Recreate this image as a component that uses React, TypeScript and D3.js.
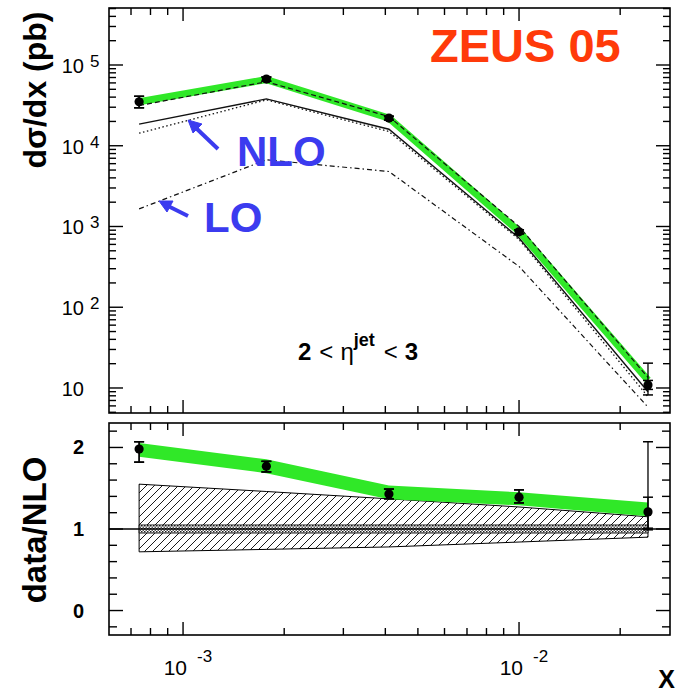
import React from "react";
import * as d3 from "d3";

// Bin centres in x
const xCenters = [7.4e-4, 1.77e-3, 4.1e-3, 1.0e-2, 2.42e-2];

// dσ/dx (pb): measured values and uncertainties
const dataVals = [3.5e4, 6.7e4, 2.2e4, 860, 10.9];
const dataLo = [2.95e4, 6.3e4, 2.08e4, 810, 9.6];
const dataHi = [4.1e4, 7.1e4, 2.32e4, 910, 12.4];
const dataLoTot = [2.95e4, 6.3e4, 2.08e4, 810, 8.2];
const dataHiTot = [4.1e4, 7.1e4, 2.32e4, 910, 20.3];

// Theory curves (pb)
const greenVals = [3.5e4, 6.6e4, 2.2e4, 870, 12.5];
const dashedVals = [3.15e4, 6.2e4, 2.3e4, 1000, 13.5];
const nloVals = [1.85e4, 3.8e4, 1.6e4, 720, 9.0];
const dottedVals = [1.43e4, 3.7e4, 1.5e4, 690, 7.8];
const loVals = [1.65e3, 6.7e3, 4.8e3, 320, 5.8];

// Ratio data / NLO
const ratioVals = [1.98, 1.77, 1.43, 1.39, 1.21];
const ratioLo = [1.82, 1.7, 1.37, 1.32, 1.01];
const ratioHi = [2.07, 1.83, 1.49, 1.48, 1.39];
const ratioLoTot = [1.82, 1.7, 1.37, 1.32, 0.99];
const ratioHiTot = [2.07, 1.83, 1.49, 1.48, 2.07];

// Green band in the ratio panel
const greenRatioMid = [1.97, 1.77, 1.45, 1.37, 1.24];
const greenRatioHalf = [0.085, 0.085, 0.085, 0.08, 0.085];

// NLO scale uncertainty (hatched) and small inner band
const hatchTop = [1.55, 1.46, 1.37, 1.27, 1.15];
const hatchBot = [0.72, 0.75, 0.78, 0.84, 0.9];
const innerTop = [1.05, 1.05, 1.05, 1.05, 1.05];
const innerBot = [0.95, 0.95, 0.95, 0.95, 0.95];

const topDecades = [10, 100, 1000, 10000, 100000];
const topDecadeExp = ["", "2", "3", "4", "5"];
const ratioTicks = [0, 1, 2];
const xMajor = [1e-3, 1e-2];
const xMajorExp = ["-3", "-2"];

const W = 678;
const H = 694;
const L = 109;
const R = 670;
const T1 = 8;
const B1 = 413;
const T2 = 423;
const B2 = 635;

const FONT = "'Liberation Sans', Arial, Helvetica, sans-serif";
const GREEN = "#30e828";
const BLUE = "#3b3bef";
const RED = "#ff3a0a";

export default function App() {
  const x = d3.scaleLog().domain([6.02e-4, 0.02814]).range([L, R]);
  const yTop = d3.scaleLog().domain([4.9, 5.08e5]).range([B1, T1]);
  const yBot = d3.scaleLinear().domain([-0.3, 2.3]).range([B2, T2]);

  const lineTop = (vals: number[]) =>
    d3
      .line<number>()
      .x((_, i) => x(xCenters[i]))
      .y((v) => yTop(v))(vals) || "";

  const bandBot = (lo: number[], hi: number[]) =>
    d3
      .area<number>()
      .x((_, i) => x(xCenters[i]))
      .y0((_, i) => yBot(lo[i]))
      .y1((_, i) => yBot(hi[i]))(xCenters) || "";

  const greenLo = greenRatioMid.map((v, i) => v - greenRatioHalf[i]);
  const greenHi = greenRatioMid.map((v, i) => v + greenRatioHalf[i]);

  // x ticks (log, 1..9 per decade)
  const xTicks: { v: number; major: boolean }[] = [];
  for (let e = -4; e <= -1; e++) {
    for (let m = 1; m <= 9; m++) {
      const v = m * Math.pow(10, e);
      if (v >= 6.02e-4 && v <= 0.02814) xTicks.push({ v, major: m === 1 });
    }
  }
  // y log ticks
  const yTicks: { v: number; major: boolean }[] = [];
  for (let e = 0; e <= 5; e++) {
    for (let m = 1; m <= 9; m++) {
      const v = m * Math.pow(10, e);
      if (v >= 4.9 && v <= 5.08e5) yTicks.push({ v, major: m === 1 });
    }
  }
  // ratio ticks every 0.2
  const rTicks: { v: number; major: boolean }[] = [];
  for (let k = -1; k <= 11; k++) {
    const v = k * 0.2;
    if (v >= -0.3 && v <= 2.3) rTicks.push({ v, major: k % 5 === 0 });
  }

  const xTickMarks = (top: number, bot: number) =>
    xTicks.map((t, i) => {
      const len = t.major ? 13 : 7;
      const px = x(t.v);
      return (
        <g key={i}>
          <line x1={px} x2={px} y1={top} y2={top + len} stroke="#000" strokeWidth={1.4} />
          <line x1={px} x2={px} y1={bot} y2={bot - len} stroke="#000" strokeWidth={1.4} />
        </g>
      );
    });

  const errBar = (cx: number, ylo: number, yhi: number, key: string) => (
    <g key={key}>
      <line x1={cx} x2={cx} y1={ylo} y2={yhi} stroke="#000" strokeWidth={1.3} />
      <line x1={cx - 5} x2={cx + 5} y1={ylo} y2={ylo} stroke="#000" strokeWidth={1.5} />
      <line x1={cx - 5} x2={cx + 5} y1={yhi} y2={yhi} stroke="#000" strokeWidth={1.5} />
    </g>
  );

  return (
    <svg
      width={W}
      height={H}
      viewBox={`0 0 ${W} ${H}`}
      style={{ position: "absolute", left: 0, top: 0, background: "#fff" }}
      fontFamily={FONT}
    >
      <defs>
        <pattern id="hatch" patternUnits="userSpaceOnUse" width="8" height="8">
          <path d="M0,8 L8,0 M-2,2 L2,-2 M6,10 L10,6" stroke="#000" strokeWidth="0.9" />
        </pattern>
        <pattern id="dots" patternUnits="userSpaceOnUse" width="3" height="3">
          <rect width="3" height="3" fill="#fff" />
          <rect width="1.5" height="1.5" fill="#222" />
          <rect x="1.5" y="1.5" width="1.5" height="1.5" fill="#555" />
        </pattern>
        <clipPath id="clipTop">
          <rect x={L} y={T1} width={R - L} height={B1 - T1} />
        </clipPath>
      </defs>
      <rect width={W} height={H} fill="#fff" />

      {/* ---------- upper panel ---------- */}
      <g clipPath="url(#clipTop)">
        <path d={lineTop(greenVals)} fill="none" stroke={GREEN} strokeWidth={7} strokeLinejoin="round" />
        <path d={lineTop(dashedVals)} fill="none" stroke="#111" strokeWidth={1.2} strokeDasharray="5,3" />
        <path d={lineTop(nloVals)} fill="none" stroke="#111" strokeWidth={1.4} />
        <path d={lineTop(dottedVals)} fill="none" stroke="#111" strokeWidth={1.3} strokeDasharray="1.5,2.5" />
        <path d={lineTop(loVals)} fill="none" stroke="#111" strokeWidth={1.2} strokeDasharray="5,3,1.5,3" />
        {xCenters.map((xc, i) => errBar(x(xc), yTop(dataLoTot[i]), yTop(dataHiTot[i]), "t" + i))}
        {xCenters.map((xc, i) => errBar(x(xc), yTop(dataLo[i]), yTop(dataHi[i]), "ti" + i))}
        {xCenters.map((xc, i) => (
          <circle key={"p" + i} cx={x(xc)} cy={yTop(dataVals[i])} r={4.6} fill="#000" />
        ))}
      </g>
      <rect x={L} y={T1} width={R - L} height={B1 - T1} fill="none" stroke="#000" strokeWidth={1.6} />
      {xTickMarks(T1, B1)}
      {yTicks.map((t, i) => {
        const len = t.major ? 14 : 7;
        const py = yTop(t.v);
        return (
          <g key={"yt" + i}>
            <line x1={L} x2={L + len} y1={py} y2={py} stroke="#000" strokeWidth={1.4} />
            <line x1={R} x2={R - len} y1={py} y2={py} stroke="#000" strokeWidth={1.4} />
          </g>
        );
      })}
      {topDecades.map((v, i) => (
        <g key={"yl" + i}>
          <text x={84} y={yTop(v) + 8} textAnchor="end" fontSize={20}>
            10
          </text>
          {topDecadeExp[i] && (
            <text x={90} y={yTop(v) + 2} fontSize={17}>
              {topDecadeExp[i]}
            </text>
          )}
        </g>
      ))}
      <text
        transform="translate(46,90) rotate(-90)"
        textAnchor="middle"
        fontSize={32}
        fontWeight="bold"
      >
        dσ/dx (pb)
      </text>

      <text x={430} y={62} fontSize={47} fontWeight="bold" fill={RED}>
        ZEUS 05
      </text>
      <text x={237} y={166} fontSize={42} fontWeight="bold" fill={BLUE}>
        NLO
      </text>
      <text x={204} y={232} fontSize={42} fontWeight="bold" fill={BLUE}>
        LO
      </text>
      {/* arrows */}
      <g stroke={BLUE} strokeWidth={4} fill={BLUE}>
        <line x1={218} y1={149} x2={196} y2={128} />
        <path d="M188,120 L202,124 L193,133 Z" strokeWidth={1} />
        <line x1={188} y1={216} x2={168} y2={206} />
        <path d="M159,201 L173,201 L167,212 Z" strokeWidth={1} />
      </g>

      <text x={298} y={360} fontSize={24}>
        <tspan fontWeight="bold">2</tspan>
        <tspan dx={8}>{"<"}</tspan>
        <tspan dx={7}>η</tspan>
        <tspan dy={-14} fontSize={18} fontWeight="bold">jet</tspan>
        <tspan dy={14} dx={9}>{"<"}</tspan>
        <tspan dx={7} fontWeight="bold">3</tspan>
      </text>

      {/* ---------- ratio panel ---------- */}
      <path d={bandBot(hatchBot, hatchTop)} fill="url(#hatch)" stroke="#000" strokeWidth={1} />
      <path d={bandBot(innerBot, innerTop)} fill="url(#dots)" stroke="#000" strokeWidth={0.8} />
      <line x1={L} x2={R} y1={yBot(1)} y2={yBot(1)} stroke="#000" strokeWidth={1.3} />
      <path d={bandBot(greenLo, greenHi)} fill={GREEN} stroke="none" />
      {xCenters.map((xc, i) => errBar(x(xc), yBot(ratioLoTot[i]), yBot(ratioHiTot[i]), "b" + i))}
      {xCenters.map((xc, i) => errBar(x(xc), yBot(ratioLo[i]), yBot(ratioHi[i]), "bi" + i))}
      {xCenters.map((xc, i) => (
        <circle key={"q" + i} cx={x(xc)} cy={yBot(ratioVals[i])} r={4.6} fill="#000" />
      ))}

      <rect x={L} y={T2} width={R - L} height={B2 - T2} fill="none" stroke="#000" strokeWidth={1.6} />
      {xTickMarks(T2, B2)}
      {rTicks.map((t, i) => {
        const len = t.major ? 14 : 8;
        const py = yBot(t.v);
        return (
          <g key={"rt" + i}>
            <line x1={L} x2={L + len} y1={py} y2={py} stroke="#000" strokeWidth={1.4} />
            <line x1={R} x2={R - len} y1={py} y2={py} stroke="#000" strokeWidth={1.4} />
          </g>
        );
      })}
      {ratioTicks.map((v) => (
        <text key={"rl" + v} x={84} y={yBot(v) + 7} textAnchor="end" fontSize={20} fontWeight="bold">
          {v}
        </text>
      ))}
      <text
        transform="translate(46,530) rotate(-90)"
        textAnchor="middle"
        fontSize={33}
        fontWeight="bold"
      >
        data/NLO
      </text>

      {xMajor.map((v, i) => (
        <g key={"xl" + i}>
          <text x={x(v) + 4} y={675} textAnchor="end" fontSize={21}>
            10
          </text>
          <text x={x(v) + 14} y={662} fontSize={17}>
            {xMajorExp[i]}
          </text>
        </g>
      ))}
      <text x={675} y={688} textAnchor="end" fontSize={25} fontWeight="bold">
        X
      </text>
    </svg>
  );
}
